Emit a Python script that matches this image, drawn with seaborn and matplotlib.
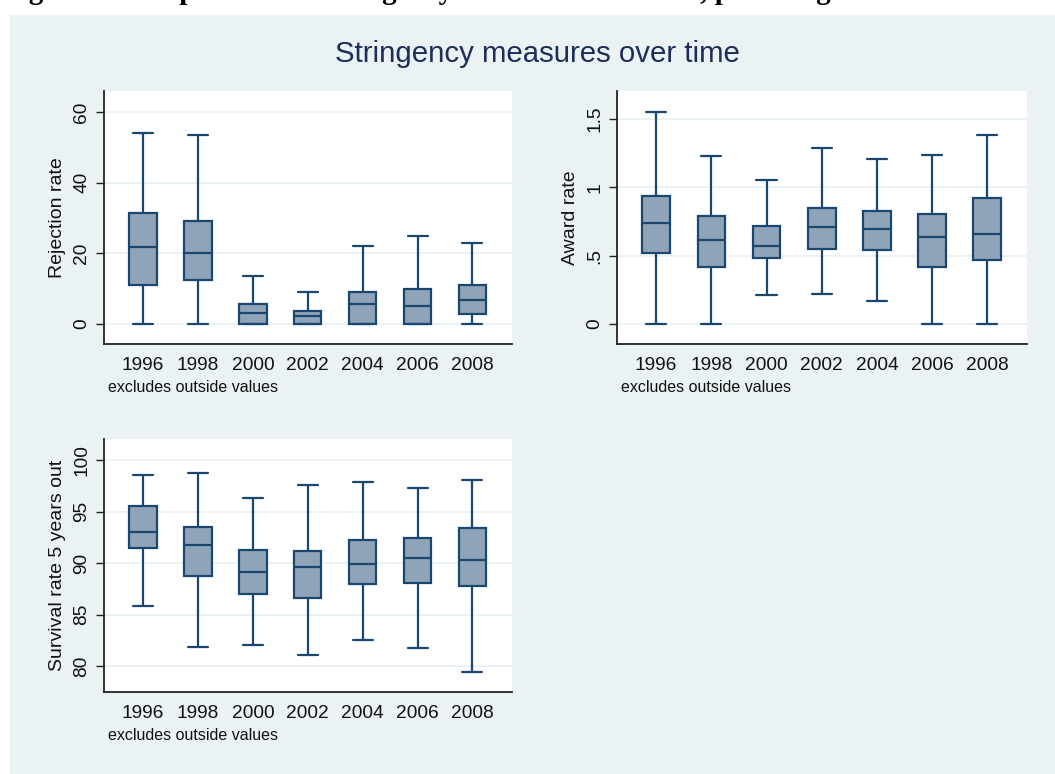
import matplotlib
matplotlib.use("Agg")
import matplotlib.pyplot as plt
import matplotlib.patches as mpatches
import pandas as pd
import seaborn as sns

# Five-number summaries (whiskers exclude outside values)
years = ["1996", "1998", "2000", "2002", "2004", "2006", "2008"]

rej_lo = [0.0, 0.0, 0.0, 0.0, 0.0, 0.0, 0.0]
rej_q1 = [11.1, 12.5, 0.0, 0.0, 0.0, 0.0, 2.8]
rej_med = [21.7, 20.1, 3.1, 2.1, 5.7, 5.2, 6.7]
rej_q3 = [31.4, 29.1, 5.6, 3.7, 8.9, 9.9, 11.1]
rej_hi = [54.2, 53.5, 13.7, 9.1, 22.2, 25.0, 22.8]

awd_lo = [0.0, 0.0, 0.21, 0.22, 0.17, 0.0, 0.0]
awd_q1 = [0.52, 0.42, 0.486, 0.552, 0.542, 0.415, 0.467]
awd_med = [0.74, 0.618, 0.574, 0.711, 0.694, 0.64, 0.657]
awd_q3 = [0.941, 0.792, 0.718, 0.853, 0.828, 0.809, 0.926]
awd_hi = [1.551, 1.229, 1.058, 1.29, 1.212, 1.236, 1.388]

srv_lo = [85.86, 81.88, 82.04, 81.04, 82.49, 81.72, 79.42]
srv_q1 = [91.42, 88.71, 87.02, 86.63, 87.96, 88.06, 87.77]
srv_med = [93.04, 91.75, 89.16, 89.58, 89.87, 90.45, 90.26]
srv_q3 = [95.53, 93.50, 91.26, 91.17, 92.27, 92.46, 93.37]
srv_hi = [98.58, 98.74, 96.28, 97.57, 97.90, 97.28, 98.06]

NAVY = "#1A476F"
FILL = "#8FA4B9"
PANEL = "#EAF2F3"
TITLE = "#1F2D5A"


def long_frame(lo, q1, med, q3, hi):
    rows = []
    for i, yr in enumerate(years):
        for v in (lo[i], q1[i], med[i], q3[i], hi[i]):
            rows.append({"year": yr, "value": v})
    return pd.DataFrame(rows)


sns.set_theme(style="white")
plt.rcParams["font.family"] = ["Liberation Sans", "DejaVu Sans"]

fig = plt.figure(figsize=(10.55, 7.74), dpi=100)
fig.patch.set_facecolor("white")

# light bluish graph region
fig.patches.append(mpatches.Rectangle((10 / 1055, 0), 1 - 10 / 1055, 1 - 15 / 774,
                                      transform=fig.transFigure, facecolor=PANEL,
                                      edgecolor="none", zorder=-10))

# caption of the page above the graph, cut off by the top edge as in the scan
fig.text(3 / 1055, 1 + 1 / 774, "Figure 3: Box plots of the stringency measures over time, pre-filing",
         family=["Liberation Serif", "DejaVu Serif"], weight="bold", fontsize=21,
         ha="left", va="baseline", color="black")

fig.text(537 / 1055, 1 - 62 / 774, "Stringency measures over time", ha="center",
         va="baseline", fontsize=21.2, color=TITLE)

panels = [
    ([104, 91, 512, 344], long_frame(rej_lo, rej_q1, rej_med, rej_q3, rej_hi),
     "Rejection rate", (-5.7, 66.0), [0, 20, 40, 60], ["0", "20", "40", "60"]),
    ([617, 91, 1027, 344], long_frame(awd_lo, awd_q1, awd_med, awd_q3, awd_hi),
     "Award rate", (-0.147, 1.707), [0, 0.5, 1, 1.5], ["0", ".5", "1", "1.5"]),
    ([104, 439, 512, 692], long_frame(srv_lo, srv_q1, srv_med, srv_q3, srv_hi),
     "Survival rate 5 years out", (77.48, 102.04), [80, 85, 90, 95, 100],
     ["80", "85", "90", "95", "100"]),
]

for (x0, y0, x1, y1), df, ylabel, ylim, yticks, yticklabels in panels:
    ax = fig.add_axes([x0 / 1055, 1 - y1 / 774, (x1 - x0) / 1055, (y1 - y0) / 774])
    ax.set_facecolor("white")
    ax.set_axisbelow(True)
    sns.boxplot(data=df, x="year", y="value", order=years, whis=(0, 100),
                width=0.5, color=FILL, saturation=1, linecolor=NAVY,
                linewidth=1.6, capwidths=0.365, ax=ax)
    ax.set_xlim(-0.71, 6.72)
    ax.set_ylim(*ylim)
    ax.set_yticks(yticks)
    ax.set_yticklabels(yticklabels)
    ax.yaxis.grid(True, color=PANEL, linewidth=1.4)
    ax.xaxis.grid(False)
    for side in ("top", "right"):
        ax.spines[side].set_visible(False)
    for side in ("left", "bottom"):
        ax.spines[side].set_color("#222222")
        ax.spines[side].set_linewidth(1.3)
    ax.tick_params(axis="x", length=0, pad=9, labelsize=13.8, labelcolor="#111111")
    ax.tick_params(axis="y", length=6, width=1.0, color="#222222", pad=4,
                   labelsize=13.8, labelcolor="#111111", left=True)
    for lab in ax.get_yticklabels():
        lab.set_rotation(90)
        lab.set_va("center")
    ax.set_xlabel("")
    ax.set_ylabel(ylabel, fontsize=14, color="#111111", labelpad=5)
    ax.text(0.01, -48 / (y1 - y0), "excludes outside values", transform=ax.transAxes,
            ha="left", va="baseline", fontsize=11.5, color="#111111")

fig.savefig("out.png", dpi=100)
